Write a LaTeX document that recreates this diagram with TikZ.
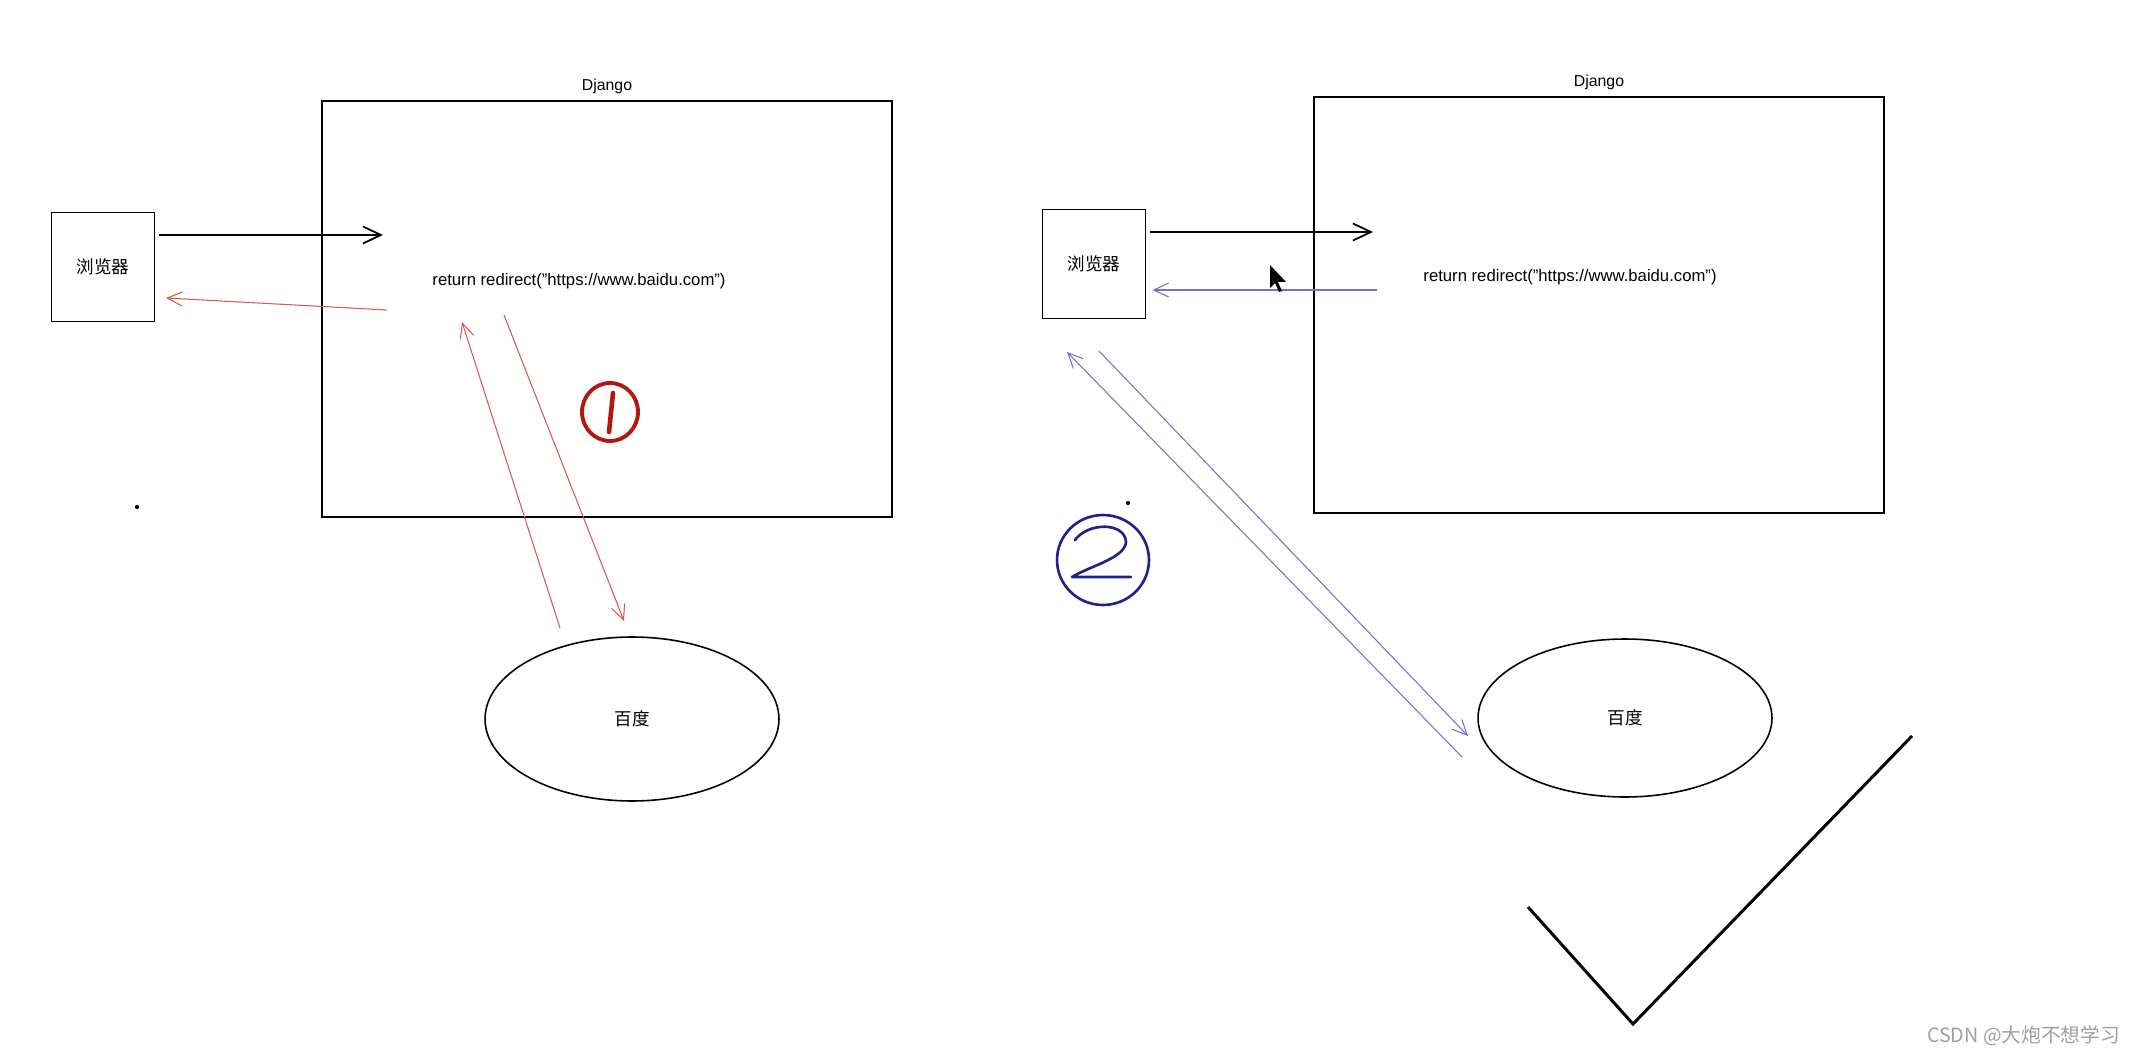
\documentclass[tikz,border=0pt]{standalone}
\usepackage{fontspec}
\setmainfont{Liberation Sans}
\newfontfamily\cjk{Noto Sans CJK SC}
\usetikzlibrary{arrows.meta,shapes.geometric}

\definecolor{redline}{RGB}{212,92,74}
\definecolor{redmark}{RGB}{176,26,14}
\definecolor{blueline}{RGB}{114,114,206}
\definecolor{bluemark}{RGB}{32,32,142}

\begin{document}
\begin{tikzpicture}[x=0.02cm,y=-0.02cm,
    every node/.style={font=\fontsize{9.5}{11}\selectfont},
    server/.style={draw,line width=1.1pt,minimum width=11.4cm,minimum height=8.32cm,inner sep=0pt,
        label={[label distance=0pt,font=\fontsize{9}{10}\selectfont]above:Django}},
    client/.style={draw,line width=1.1pt,minimum width=2.06cm,minimum height=2.18cm,inner sep=0pt,
        font=\cjk\fontsize{10}{12}\selectfont},
    site/.style={draw,ellipse,line width=0.9pt,minimum width=5.88cm,minimum height=3.28cm,inner sep=0pt,
        font=\cjk\fontsize{10}{12}\selectfont},
    req/.style={-{Straight Barb[length=0.36cm,width=0.34cm]},line width=1pt},
    redreq/.style={-{Straight Barb[length=0.3cm,width=0.28cm]},redline,line width=0.6pt},
    bluereq/.style={-{Straight Barb[length=0.3cm,width=0.28cm]},blueline,line width=0.6pt}]
    \useasboundingbox (0,0) rectangle (2132,1057);
%
    % left: django answers, the browser goes to baidu
    \node[server] (dj1) at (607,309) {};
    \node[client] (br1) at (103,267) {浏览器};
    \node (code1) at (579,281) {return redirect("https://www.baidu.com")};
    \node[site] (bd1) at (632,719) {百度};
    \coordinate (in1) at (383,235);
    \coordinate (out1) at (387,310);
    \coordinate (back1) at (166,298);
    \coordinate (up1a) at (560,628);
    \coordinate (up1b) at (462,322);
    \coordinate (dn1a) at (504,315);
    \coordinate (dn1b) at (624,621);
    \draw[req,shorten <=0.08cm] (br1.east |- in1) -- (in1);
    \draw[redreq] (out1) -- (back1);
    \draw[redreq] (up1a) -- (up1b);
    \draw[redreq] (dn1a) -- (dn1b);
    \draw[redmark,line width=2.2pt] (610,412) ellipse [x radius=0.56cm,y radius=0.58cm];
    \draw[redmark,line width=2.6pt,line cap=round] (613,393) -- (609,432);
    \fill (137,507) circle (1.2pt);
%
    % right: the browser itself goes to baidu
    \node[server] (dj2) at (1599,305) {};
    \node[client] (br2) at (1094,264) {浏览器};
    \node (code2) at (1570,277) {return redirect("https://www.baidu.com")};
    \node[site,minimum height=3.16cm] (bd2) at (1625,718) {百度};
    \coordinate (in2) at (1373,232);
    \coordinate (out2) at (1377,290);
    \coordinate (up2a) at (1462,757);
    \coordinate (up2b) at (1067,352);
    \coordinate (dn2a) at (1099,351);
    \coordinate (dn2b) at (1468,736);
    \draw[req,shorten <=0.08cm] (br2.east |- in2) -- (in2);
    \draw[bluereq,shorten >=0.12cm] (out2) -- (br2.east |- out2);
    \draw[bluereq] (up2a) -- (up2b);
    \draw[bluereq] (dn2a) -- (dn2b);
    \draw[bluemark,line width=1.5pt] (1103,560) ellipse [x radius=0.92cm,y radius=0.9cm];
    \draw[bluemark,line width=1.5pt,line cap=round,line join=round]
        (1075,540) .. controls (1088,522) and (1125,522) .. (1126,542)
        .. controls (1125,558) and (1090,566) .. (1072,577) -- (1131,577);
    \fill (1128,503) circle (1.2pt);
    \fill (1270,265) -- (1270,288) -- (1275,283) -- (1279,292) -- (1282,291)
        -- (1278,282) -- (1286,282) -- cycle;
%
    % tick and watermark
    \draw[line width=1.7pt] (1528,907) -- (1633,1024) -- (1912,736);
    \node[anchor=east,text=gray!75,font=\cjk\fontsize{11.2}{13}\selectfont] (wm) at (2126,1036) {CSDN @大炮不想学习};
\end{tikzpicture}
\end{document}
